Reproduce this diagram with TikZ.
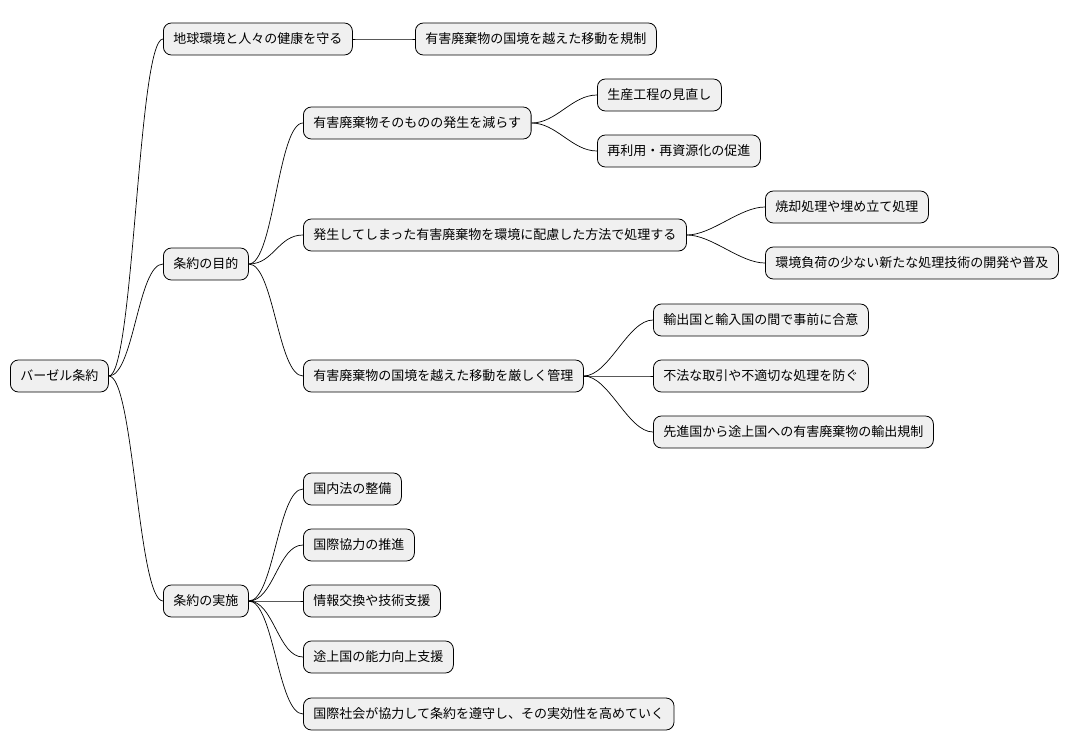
\documentclass[tikz,border=0pt]{standalone}
\usepackage{fontspec}
\setmainfont{Noto Sans CJK JP}
\begin{document}
\begin{tikzpicture}[x=1pt,y=-1pt,
  box/.style={draw=black,line width=0.8pt,fill=black!6,rounded corners=8pt,anchor=west,minimum height=32pt,inner xsep=10pt,font=\fontsize{13}{15}\selectfont},
  link/.style={line width=0.7pt}]
\useasboundingbox (0,0) rectangle (1090,752);
\node[box] (r) at (10,376) {バーゼル条約};
\node[box] (a) at (163,39) {地球環境と人々の健康を守る};
\node[box] (a1) at (415,39) {有害廃棄物の国境を越えた移動を規制};
\node[box] (b) at (163,264) {条約の目的};
\node[box] (b1) at (303,123) {有害廃棄物そのものの発生を減らす};
\node[box] (b11) at (597,95) {生産工程の見直し};
\node[box] (b12) at (597,151) {再利用・再資源化の促進};
\node[box] (b2) at (303,235) {発生してしまった有害廃棄物を環境に配慮した方法で処理する};
\node[box] (b21) at (765,207) {焼却処理や埋め立て処理};
\node[box] (b22) at (765,263) {環境負荷の少ない新たな処理技術の開発や普及};
\node[box] (b3) at (303,376) {有害廃棄物の国境を越えた移動を厳しく管理};
\node[box] (b31) at (653,320) {輸出国と輸入国の間で事前に合意};
\node[box] (b32) at (653,376) {不法な取引や不適切な処理を防ぐ};
\node[box] (b33) at (653,432) {先進国から途上国への有害廃棄物の輸出規制};
\node[box] (c) at (163,601) {条約の実施};
\node[box] (c1) at (303,489) {国内法の整備};
\node[box] (c2) at (303,545) {国際協力の推進};
\node[box] (c3) at (303,601) {情報交換や技術支援};
\node[box] (c4) at (303,657) {途上国の能力向上支援};
\node[box] (c5) at (303,714) {国際社会が協力して条約を遵守し、その実効性を高めていく};
\foreach \p/\c in {r/a,r/b,r/c,a/a1,b/b1,b/b2,b/b3,b1/b11,b1/b12,b2/b21,b2/b22,b3/b31,b3/b32,b3/b33,c/c1,c/c2,c/c3,c/c4,c/c5}
  \draw[link] (\p.east) .. controls ([xshift=25pt]\p.east) and ([xshift=-25pt]\c.west) .. (\c.west);
\end{tikzpicture}
\end{document}
